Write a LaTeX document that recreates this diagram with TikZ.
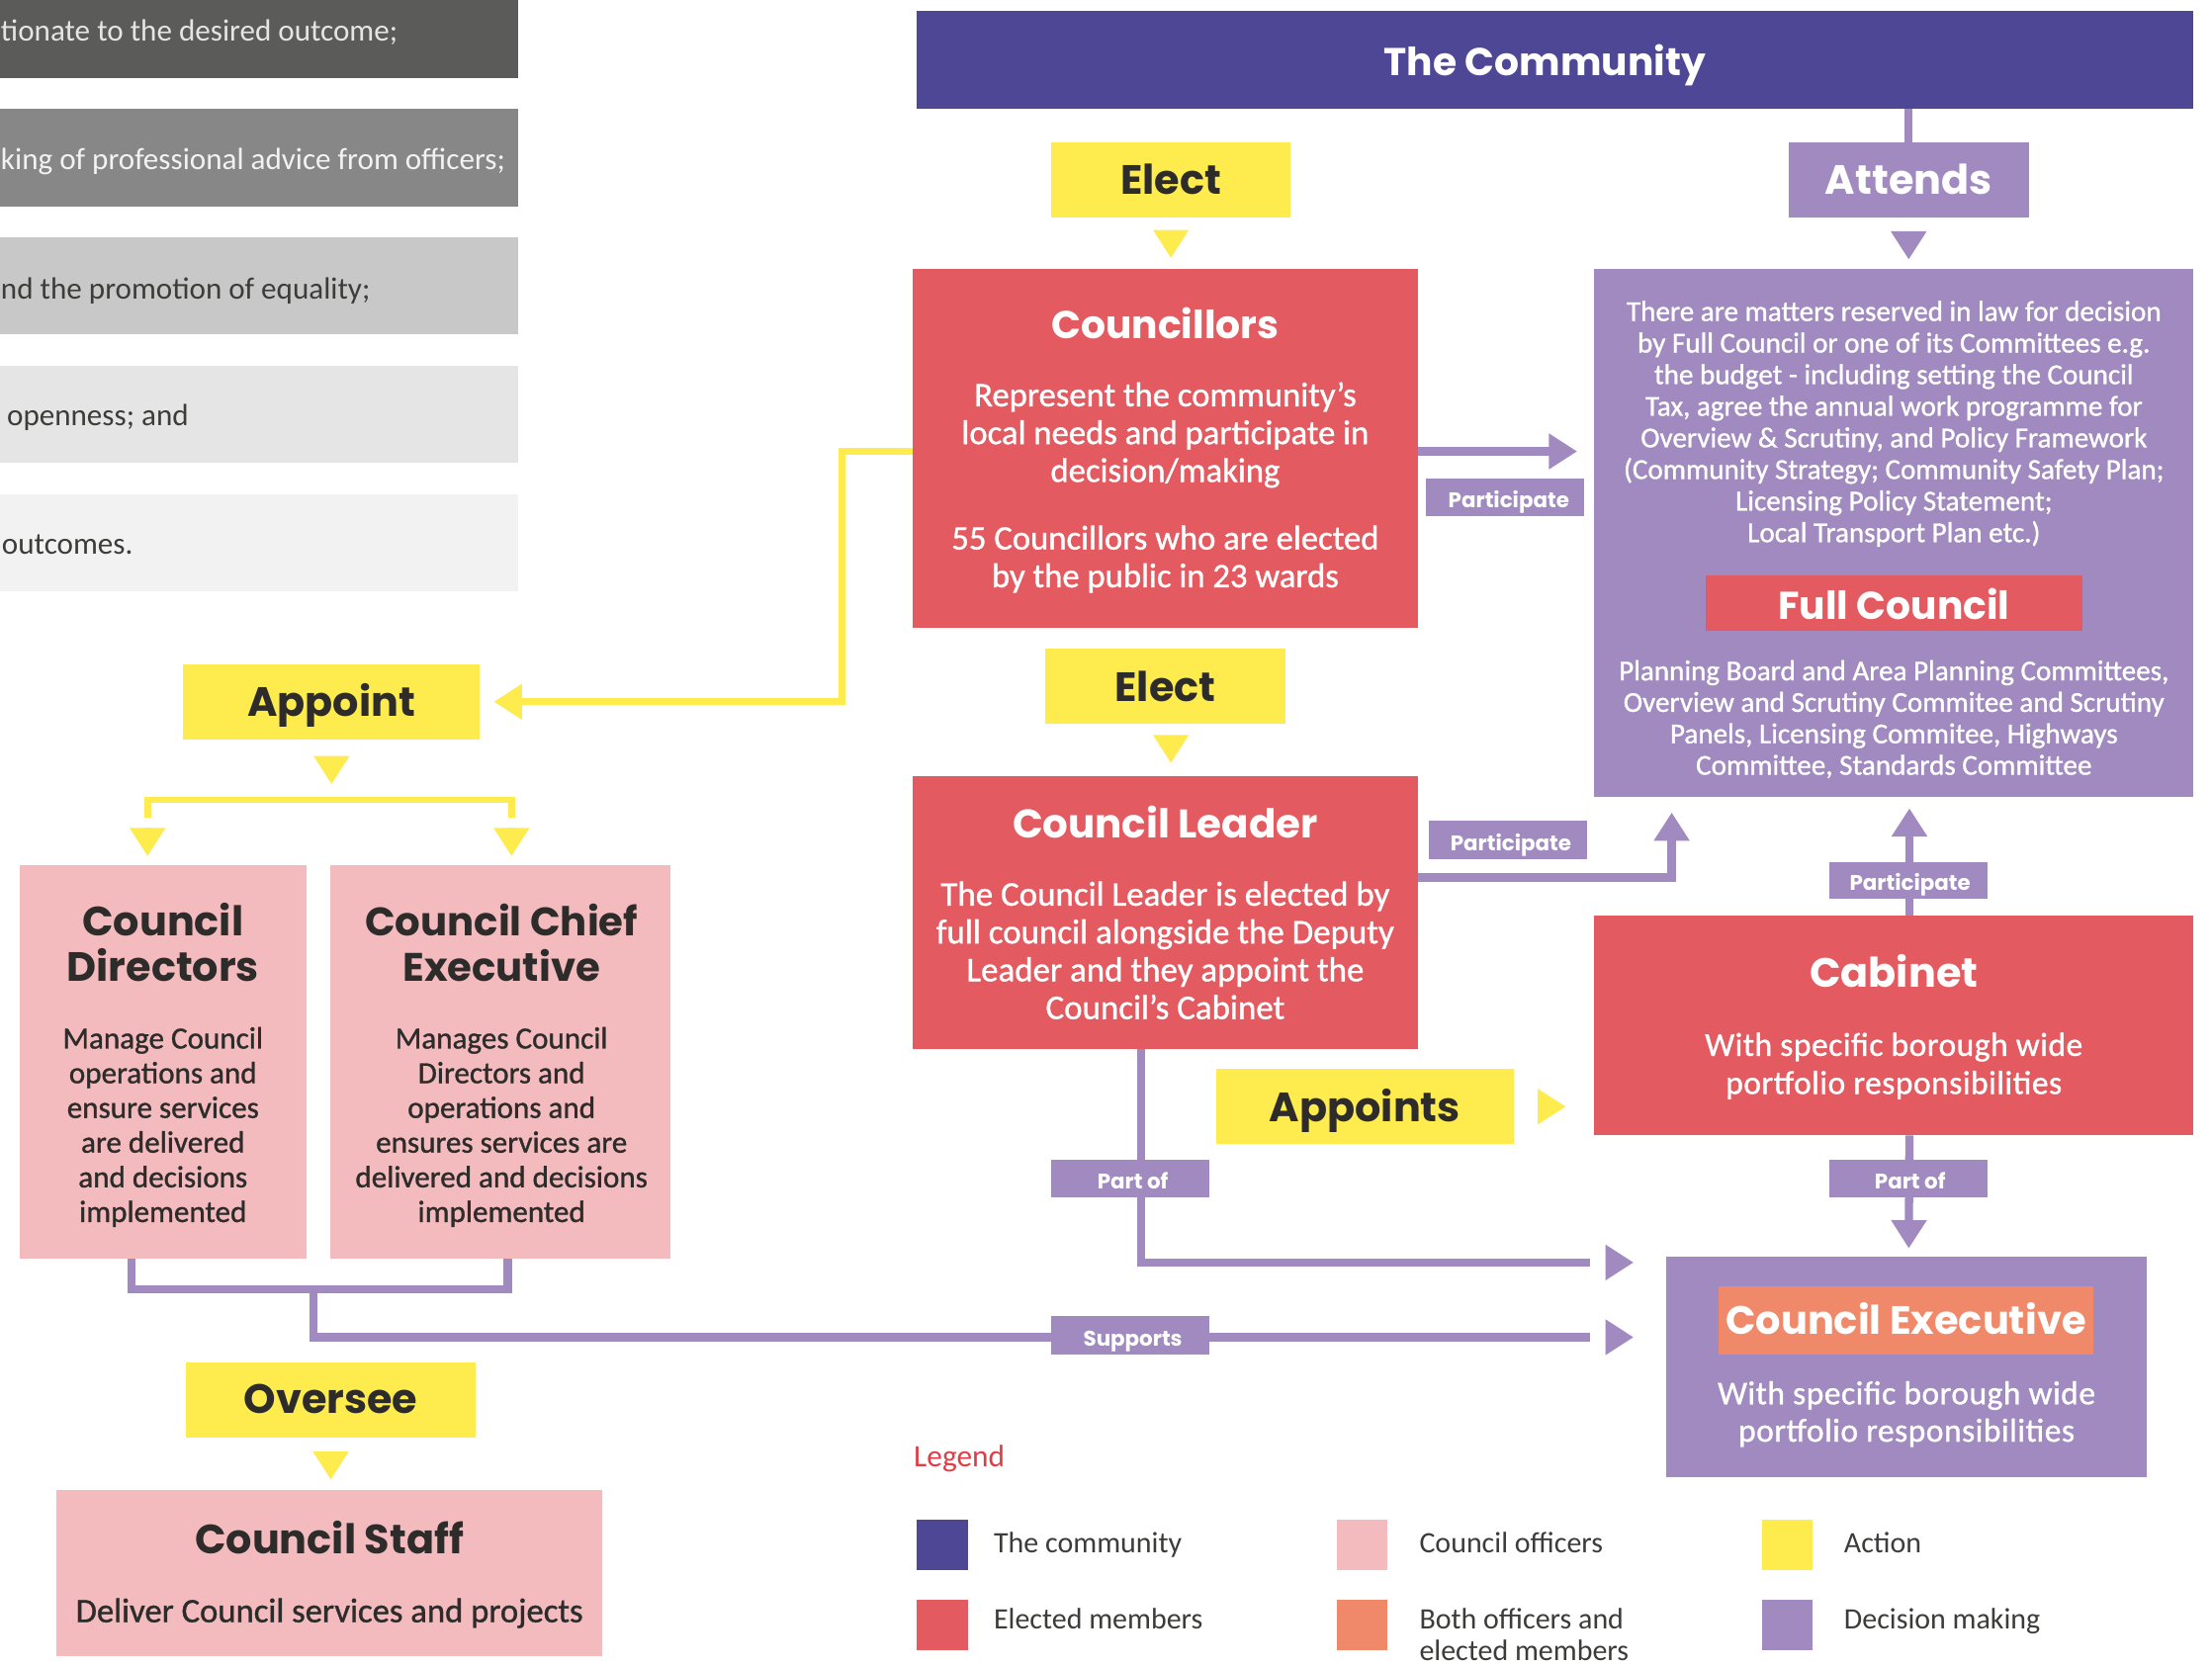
\documentclass[tikz,border=0pt]{standalone}
\usepackage{fontspec}
\setmainfont{Carlito}
\newfontfamily\headfont{Poppins}
\newfontfamily\bodyfont{Carlito}[FakeBold=1]
\newfontfamily\bodywide{Carlito}[FakeBold=1, LetterSpace=1.5]
\usetikzlibrary{arrows.meta,calc}

\definecolor{commblue}{HTML}{4D4796}
\definecolor{elected}{HTML}{E35B60}
\definecolor{officer}{HTML}{F4BBBF}
\definecolor{both}{HTML}{F0896A}
\definecolor{action}{HTML}{FEEB4E}
\definecolor{decide}{HTML}{A08ABF}
\definecolor{ink}{HTML}{2D2C2B}
\definecolor{legendred}{HTML}{E23D46}
\definecolor{grayA}{HTML}{5B5B5A}
\definecolor{grayB}{HTML}{878787}
\definecolor{grayC}{HTML}{C8C8C8}
\definecolor{grayD}{HTML}{E5E5E5}
\definecolor{grayE}{HTML}{F2F2F2}
\definecolor{grayInk}{HTML}{3C3C3B}

% box from its top-left (#3,#4) to its bottom-right (#5,#6)
\newcommand\mkbox[6]{%
  \node[box, fill=#2, minimum width={(#5)-(#3)}, minimum height={(#6)-(#4)},
        anchor=north west] (#1) at (#3,#4) {};}

\begin{document}
\begin{tikzpicture}[x=1pt, y=-1pt,
  box/.style={rectangle, inner sep=0pt, outer sep=0pt, draw=none},
  head/.style={font=\headfont\bfseries\fontsize{#1}{#1}\selectfont,
               inner sep=0pt, anchor=base, text=white},
  head/.default=29,
  headk/.style={head=#1, text=ink},
  headk/.default=29,
  tag/.style={font=\headfont\bfseries\fontsize{15}{15}\selectfont,
              inner sep=0pt, anchor=base, text=white},
  body/.style={font=\bodyfont\fontsize{#1}{#1}\selectfont, inner sep=0pt,
               anchor=base, text=white},
  bodyk/.style={body=#1, text=ink},
  bwide/.style={font=\bodywide\fontsize{#1}{#1}\selectfont, inner sep=0pt,
               anchor=base, text=white},
  bartext/.style={font=\fontsize{21.8}{21.8}\selectfont, inner sep=0pt,
                  anchor=base west},
  legtext/.style={font=\fontsize{21}{21}\selectfont, inner sep=0pt,
                  anchor=base west, text=grayInk},
  lavline/.style={draw=decide, line width=5.8},
  lavarrow/.style={lavline, -{Triangle[length=20pt,width=24pt]}},
  yelline/.style={draw=action, line width=4.8},
  yelarrow/.style={yelline, -{Triangle[length=20pt,width=24pt]}},
]
\useasboundingbox (0,0) rectangle (1568,1181);
\fill[white] (0,0) rectangle (1568,1181);

% ---- grey principle bars ----
\mkbox{barA}{grayA}{0}{0}{367.5}{55.4}
\node[bartext, text=grayD] (barA-t) at (0.5,29) {tionate to the desired outcome;};
\mkbox{barB}{grayB}{0}{77}{367.5}{146.3}
\node[bartext, text=grayE] (barB-t) at (0.5,120.5) {king of professional advice from officers;};
\mkbox{barC}{grayC}{0}{168}{367.5}{237}
\node[bartext, text=grayInk] (barC-t) at (0.5,212) {nd the promotion of equality;};
\mkbox{barD}{grayD}{0}{259}{367.5}{328}
\node[bartext, text=grayInk] (barD-t) at (4.8,302) {openness; and};
\mkbox{barE}{grayE}{0}{350.5}{367.5}{419}
\node[bartext, text=grayInk] (barE-t) at (1.2,393) {outcomes.};

% ---- boxes ----
\mkbox{comm}{commblue}{650}{8}{1555}{77}
\mkbox{elect1}{action}{745}{101}{915}{154}
\mkbox{attends}{decide}{1268}{101}{1438}{154}
\mkbox{councillors}{elected}{647}{191}{1005}{445}
\mkbox{fullc}{decide}{1130}{191}{1555}{565}
\mkbox{fclabel}{elected}{1209}{408}{1476}{447}
\mkbox{elect2}{action}{741}{460}{911}{513}
\mkbox{appoint}{action}{130}{471}{340}{524}
\mkbox{leader}{elected}{647}{550}{1005}{744}
\mkbox{cabinet}{elected}{1130}{649}{1555}{805}
\mkbox{directors}{officer}{14}{613}{217}{892}
\mkbox{chief}{officer}{234}{613}{475}{892}
\mkbox{appoints}{action}{862}{758}{1073}{811}
\mkbox{exec}{decide}{1181}{891}{1522}{1047}
\mkbox{execlabel}{both}{1218}{912}{1484}{960}
\mkbox{oversee}{action}{132}{966}{337}{1019}
\mkbox{staff}{officer}{40}{1056}{427}{1174}

% ---- connectors: community / decision making ----
\draw[lavline] (attends.north |- comm.south) -- (attends.north);
\draw[lavarrow, shorten <=11pt, shorten >=7pt]
  (attends.south) -- (attends.south |- fullc.north);
\draw[lavarrow, shorten >=12pt] ($(councillors.east)+(0,2)$) -- ($(councillors.east -| fullc.west)+(0,2)$);
\draw[lavarrow, shorten >=11pt] ($(leader.east)+(0,-25)$) -| ($(fullc.south west)+(55,0)$);
\draw[lavarrow, shorten >=8pt] ($(cabinet.north)+(11,0)$) -- ($(fullc.south)+(11,0)$);
\draw[lavarrow, shorten >=6pt] ($(cabinet.south)+(11,0)$) -- ($(exec.north)+(1.5,0)$);
% leader and officers feed the executive; the heads stand clear of the lines
\draw[lavline, shorten >=54pt] ($(leader.south)+(-17,0)$) |- ($(exec.north west)+(0,4)$);
\draw[lavarrow, shorten <=17pt, shorten >=23pt] ($(exec.north west)+(-60,4)$) -- ($(exec.north west)+(0,4)$);
\draw[lavline] ($(directors.south)+(-22.5,0)$) -- ++(0,22) -| ($(chief.south)+(5.5,0)$);
\coordinate (officers-join) at (222,914);
\draw[lavline, shorten >=54pt] (officers-join) |- ($(exec.west)+(0,-21)$);
\draw[lavarrow, shorten <=17pt, shorten >=23pt] ($(exec.west)+(-60,-21)$) -- ($(exec.west)+(0,-21)$);

% ---- connectors: actions ----
\draw[yelarrow, shorten >=10pt] ($(councillors.west)+(0,2)$) -- ++(-50,0) |- (appoint.east);
\draw[yelarrow, shorten <=10pt, shorten >=8pt] (elect1.south) -- (elect1.south |- councillors.north);
\draw[yelarrow, shorten <=9pt, shorten >=9pt] ($(elect2.south)+(4,0)$) -- ($(elect2.south |- leader.north)+(4,0)$);
\draw[yelarrow, shorten <=18pt, shorten >=20pt] (appoints.east) -- (appoints.east -| cabinet.west);
\draw[yelarrow, shorten <=11pt, shorten >=7pt] (oversee.south) -- (oversee.south |- staff.north);
\coordinate (appoint-split) at (235,567);
\coordinate (split-left) at (104.6,580);
\coordinate (split-right) at (362.6,580);
\draw[yelarrow, shorten <=13pt, shorten >=11pt] (appoint.south) -- (appoint-split);
\draw[yelline] (split-left) -- (split-left |- appoint-split) -- (split-right |- appoint-split) -- (split-right);
\draw[yelarrow, shorten <=7pt, shorten >=6pt] (split-left) -- (split-left |- directors.north);
\draw[yelarrow, shorten <=7pt, shorten >=6pt] (split-right) -- (split-right |- chief.north);

% ---- relation tags ----
\mkbox{tag-p1}{decide}{1011}{339}{1123}{366}
\mkbox{tag-p2}{decide}{1013}{582}{1125}{609}
\mkbox{tag-p3}{decide}{1297}{611}{1409}{637}
\mkbox{tag-o1}{decide}{745}{822}{857}{849}
\mkbox{tag-o2}{decide}{1297}{822}{1409}{849}
\mkbox{tag-s}{decide}{745}{933}{857}{960}
\node[tag] (tag-p1-t) at (1069.5,360) {Participate};
\node[tag] (tag-p2-t) at (1071,603) {Participate};
\node[tag] (tag-p3-t) at (1354,631.5) {Participate};
\node[tag] (tag-o1-t) at (803,843) {Part of};
\node[tag] (tag-o2-t) at (1354,843) {Part of};
\node[tag] (tag-s-t) at (803,954) {Supports};

% ---- texts ----
\node[head=27.5] (comm-t) at (1095,53.7) {The Community};
\node[headk] (elect1-t) at (830,138) {Elect};
\node[head] (attends-t) at (1353,138) {Attends};
\node[headk] (elect2-t) at (826,497) {Elect};
\node[headk] (appoint-t) at (235,508) {Appoint};
\node[headk] (appoints-t) at (967.5,795.5) {Appoints};
\node[headk] (oversee-t) at (234.5,1002) {Oversee};

\node[head=27.5] (councillors-t) at (826,240) {Councillors};
\foreach \ln [count=\i from 0] in {{Represent the community’s},{local needs and participate in},{decision/making}}
  \node[body=24.3] (councillors-a\i) at (826,{288+26.8*\i}) {\ln};
\foreach \ln [count=\i from 0] in {{55 Councillors who are elected},{by the public in 23 wards}}
  \node[body=24.3] (councillors-b\i) at (826,{389.5+26.8*\i}) {\ln};

\node[head=28.3] (leader-t) at (826,593.7) {Council Leader};
\foreach \ln [count=\i from 0] in {{The Council Leader is elected by},{full council alongside the Deputy},{Leader and they appoint the},{Council’s Cabinet}}
  \node[body=24.5] (leader-b\i) at (826,{642+26.8*\i}) {\ln};

\foreach \ln [count=\i from 0] in {{There are matters reserved in law for decision},{by Full Council or one of its Committees e.g.},{the budget - including setting the Council},{Tax, agree the annual work programme for},{Overview \& Scrutiny, and Policy Framework},{(Community Strategy; Community Safety Plan;},{Licensing Policy Statement;},{Local Transport Plan etc.)}}
  \node[body=20.4] (fullc-a\i) at (1342.5,{227.5+22.4*\i}) {\ln};
\node[head=27.5] (fclabel-t) at (1342.5,439) {Full Council};
\foreach \ln [count=\i from 0] in {{Planning Board and Area Planning Committees,},{Overview and Scrutiny Commitee and Scrutiny},{Panels, Licensing Commitee, Highways},{Committee, Standards Committee}}
  \node[body=20.4] (fullc-b\i) at (1342.5,{482.3+22.3*\i}) {\ln};

\node[head] (cabinet-t) at (1342.5,700) {Cabinet};
\foreach \ln [count=\i from 0] in {{With specific borough wide},{portfolio responsibilities}}
  \node[bwide=23.5] (cabinet-b\i) at (1342.5,{748.5+27*\i}) {\ln};

\node[head=28] (execlabel-t) at (1351,946) {Council Executive};
\foreach \ln [count=\i from 0] in {{With specific borough wide},{portfolio responsibilities}}
  \node[bwide=23.5] (exec-b\i) at (1351.5,{995.5+26.5*\i}) {\ln};

\node[headk=29] (directors-t0) at (115.5,663.4) {Council};
\node[headk=29] (directors-t1) at (115.5,696) {Directors};
\foreach \ln [count=\i from 0] in {{Manage Council},{operations and},{ensure services},{are delivered},{and decisions},{implemented}}
  \node[bodyk=21.8] (directors-b\i) at (115.5,{743.3+24.6*\i}) {\ln};

\node[headk=28.2] (chief-t0) at (355.5,663.4) {Council Chief};
\node[headk=28.2] (chief-t1) at (355.5,696) {Executive};
\foreach \ln [count=\i from 0] in {{Manages Council},{Directors and},{operations and},{ensures services are},{delivered and decisions},{implemented}}
  \node[bodyk=21.8] (chief-b\i) at (355.5,{743.3+24.6*\i}) {\ln};

\node[headk] (staff-t) at (233.5,1101.6) {Council Staff};
\node[bodyk=24.3] (staff-b) at (233.5,1150) {Deliver Council services and projects};

% ---- legend ----
\node[legtext, text=legendred, font=\fontsize{22}{22}\selectfont] (legend-t) at (647.6,1040) {Legend};
\mkbox{sw-comm}{commblue}{650}{1077}{686}{1113}
\mkbox{sw-elected}{elected}{650}{1134}{686}{1170}
\mkbox{sw-officer}{officer}{947.5}{1077}{983.5}{1113}
\mkbox{sw-both}{both}{947.5}{1134}{983.5}{1170}
\mkbox{sw-action}{action}{1249}{1077}{1285}{1113}
\mkbox{sw-decide}{decide}{1249}{1134}{1285}{1170}
\node[legtext] (sw-comm-t) at (704.3,1100.5) {The community};
\node[legtext] (sw-elected-t) at (704.3,1155) {Elected members};
\node[legtext] (sw-officer-t) at (1006,1100.5) {Council officers};
\node[legtext] (sw-both-t0) at (1006,1155) {Both officers and};
\node[legtext] (sw-both-t1) at (1006,1177) {elected members};
\node[legtext] (sw-action-t) at (1307,1100.5) {Action};
\node[legtext] (sw-decide-t) at (1307,1155) {Decision making};
\end{tikzpicture}
\end{document}
